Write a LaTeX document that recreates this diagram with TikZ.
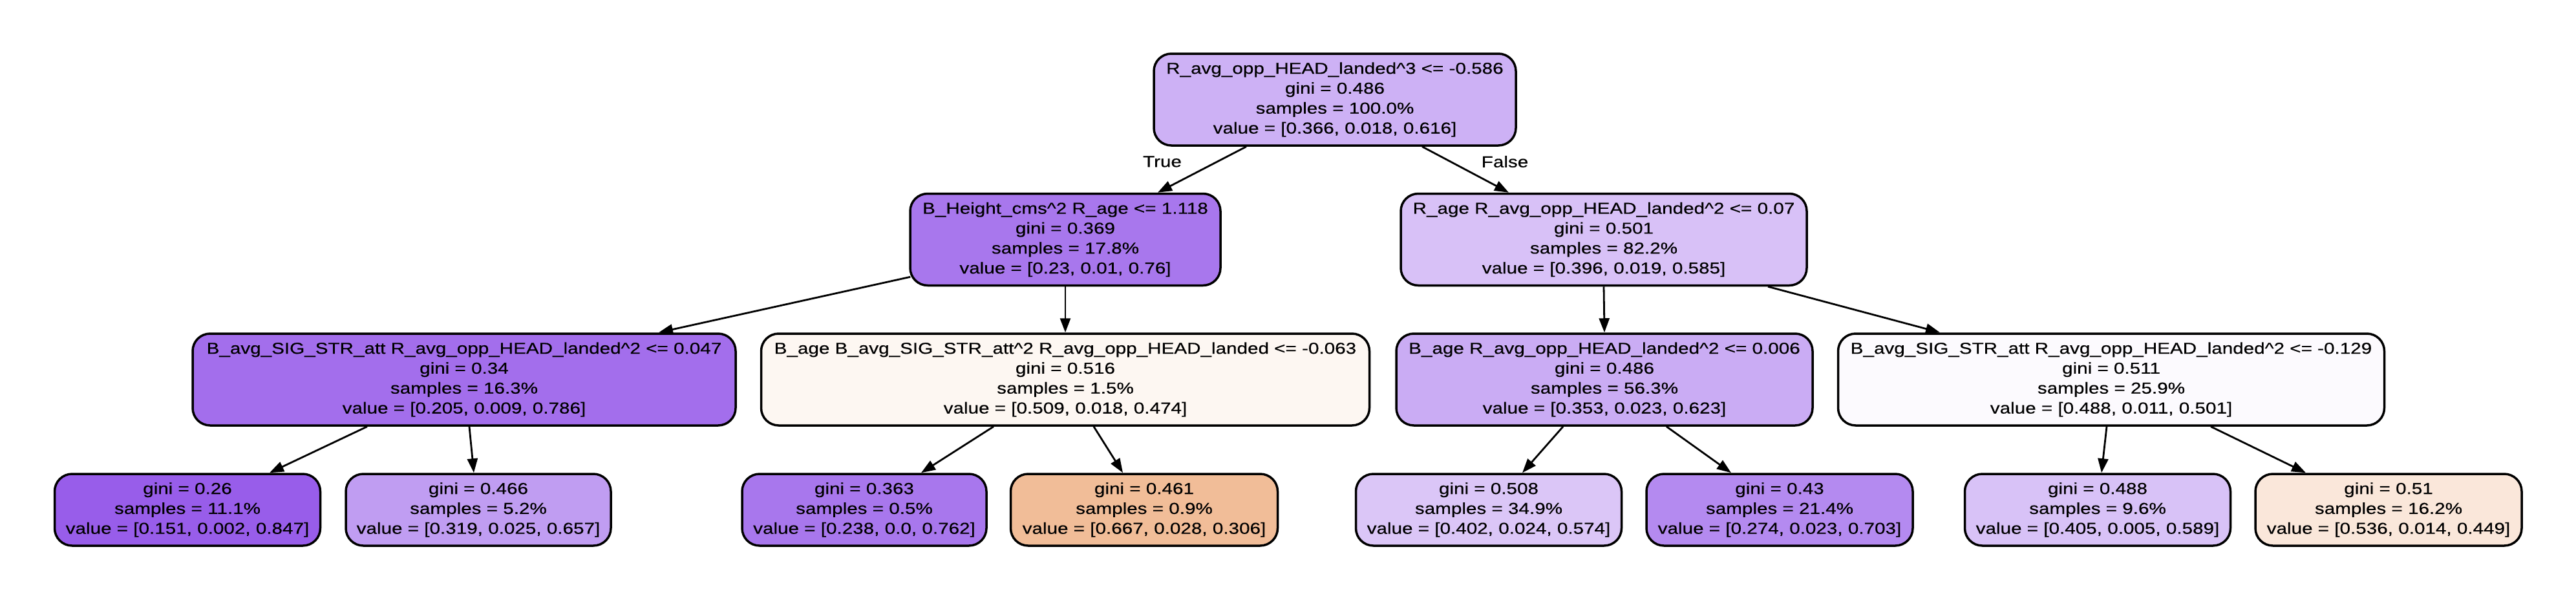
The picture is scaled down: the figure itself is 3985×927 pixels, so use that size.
\documentclass[tikz,border=0pt]{standalone}
\usepackage{fontspec}
\setmainfont{Liberation Sans}[FakeStretch=1.21,FakeBold=0.4]
\usetikzlibrary{arrows.meta,calc}
\definecolor{cRoot}{RGB}{205,177,245}
\definecolor{cLL}{RGB}{168,119,237}
\definecolor{cLR}{RGB}{216,193,247}
\definecolor{cA}{RGB}{163,110,236}
\definecolor{cB}{RGB}{253,247,242}
\definecolor{cC}{RGB}{202,172,244}
\definecolor{cD}{RGB}{252,250,254}
\definecolor{cF}{RGB}{152,93,234}
\definecolor{cG}{RGB}{192,157,242}
\definecolor{cH}{RGB}{168,119,237}
\definecolor{cI}{RGB}{241,189,152}
\definecolor{cJ}{RGB}{219,198,247}
\definecolor{cK}{RGB}{180,138,240}
\definecolor{cM}{RGB}{216,194,247}
\definecolor{cN}{RGB}{250,231,218}
\newcommand\pxu{0.5pt}
\tikzset{
  tnode/.style={draw=black, line width=1.75pt, rounded corners=13.5pt, align=center,
    inner sep=2pt, font=\fontsize{12.25pt}{15.4pt}\selectfont},
  inode/.style={tnode, minimum height=142*\pxu},
  leafnode/.style={tnode, minimum height=111*\pxu},
  edge/.style={line width=1.4pt, -{Triangle[length=11pt,width=8pt]}},
  elabel/.style={font=\fontsize{12.25pt}{15.4pt}\selectfont, inner sep=0pt}
}
\begin{document}
\begin{tikzpicture}[x=0.5pt, y=-0.5pt]
\fill[white] (0,0) rectangle (3985,927);
\useasboundingbox (0,0) rectangle (3985,927);

% level 0
\node[inode, fill=cRoot, minimum width=560*\pxu] (root) at (2065,154)
  {R\_avg\_opp\_HEAD\_landed\textasciicircum 3 <= -0.586\\ gini = 0.486\\ samples = 100.0\%\\ value = [0.366, 0.018, 0.616]};

% level 1
\node[inode, fill=cLL, minimum width=480*\pxu] (L1L) at (1648,370.5)
  {B\_Height\_cms\textasciicircum 2 R\_age <= 1.118\\ gini = 0.369\\ samples = 17.8\%\\ value = [0.23, 0.01, 0.76]};
\node[inode, fill=cLR, minimum width=628*\pxu] (L1R) at (2481,370.5)
  {R\_age R\_avg\_opp\_HEAD\_landed\textasciicircum 2 <= 0.07\\ gini = 0.501\\ samples = 82.2\%\\ value = [0.396, 0.019, 0.585]};

% level 2
\node[inode, fill=cA, minimum width=840*\pxu] (A) at (718,587)
  {B\_avg\_SIG\_STR\_att R\_avg\_opp\_HEAD\_landed\textasciicircum 2 <= 0.047\\ gini = 0.34\\ samples = 16.3\%\\ value = [0.205, 0.009, 0.786]};
\node[inode, fill=cB, minimum width=941*\pxu] (B) at (1648,587)
  {B\_age B\_avg\_SIG\_STR\_att\textasciicircum 2 R\_avg\_opp\_HEAD\_landed <= -0.063\\ gini = 0.516\\ samples = 1.5\%\\ value = [0.509, 0.018, 0.474]};
\node[inode, fill=cC, minimum width=644*\pxu] (C) at (2482,587)
  {B\_age R\_avg\_opp\_HEAD\_landed\textasciicircum 2 <= 0.006\\ gini = 0.486\\ samples = 56.3\%\\ value = [0.353, 0.023, 0.623]};
\node[inode, fill=cD, minimum width=845*\pxu] (D) at (3266,587)
  {B\_avg\_SIG\_STR\_att R\_avg\_opp\_HEAD\_landed\textasciicircum 2 <= -0.129\\ gini = 0.511\\ samples = 25.9\%\\ value = [0.488, 0.011, 0.501]};

% leaves
\node[leafnode, fill=cF, minimum width=411*\pxu] (F1) at (290,788.5)
  {gini = 0.26\\ samples = 11.1\%\\ value = [0.151, 0.002, 0.847]};
\node[leafnode, fill=cG, minimum width=410*\pxu] (F2) at (740,788.5)
  {gini = 0.466\\ samples = 5.2\%\\ value = [0.319, 0.025, 0.657]};
\node[leafnode, fill=cH, minimum width=378*\pxu] (F3) at (1337,788.5)
  {gini = 0.363\\ samples = 0.5\%\\ value = [0.238, 0.0, 0.762]};
\node[leafnode, fill=cI, minimum width=413*\pxu] (F4) at (1770,788.5)
  {gini = 0.461\\ samples = 0.9\%\\ value = [0.667, 0.028, 0.306]};
\node[leafnode, fill=cJ, minimum width=411*\pxu] (F5) at (2303,788.5)
  {gini = 0.508\\ samples = 34.9\%\\ value = [0.402, 0.024, 0.574]};
\node[leafnode, fill=cK, minimum width=412*\pxu] (F6) at (2753,788.5)
  {gini = 0.43\\ samples = 21.4\%\\ value = [0.274, 0.023, 0.703]};
\node[leafnode, fill=cM, minimum width=411*\pxu] (F7) at (3245,788.5)
  {gini = 0.488\\ samples = 9.6\%\\ value = [0.405, 0.005, 0.589]};
\node[leafnode, fill=cN, minimum width=412*\pxu] (F8) at (3695,788.5)
  {gini = 0.51\\ samples = 16.2\%\\ value = [0.536, 0.014, 0.449]};

% edges
\draw[edge] ([xshift=-137*\pxu]root.south) -- ([xshift=143*\pxu]L1L.north);
\draw[edge] ([xshift=135*\pxu]root.south) -- ([xshift=-147*\pxu]L1R.north);
\draw[edge] ([xshift=2*\pxu,yshift=15*\pxu]L1L.south west) -- ([xshift=301*\pxu]A.north);
\draw[edge] (L1L.south) -- (B.north);
\draw[edge] (L1R.south) -- (C.north);
\draw[edge] ([xshift=254*\pxu]L1R.south) -- ([xshift=-265*\pxu]D.north);
\draw[edge] ([xshift=-150*\pxu]A.south) -- ([xshift=127*\pxu]F1.north);
\draw[edge] ([xshift=8*\pxu]A.south) -- ([xshift=-7*\pxu]F2.north);
\draw[edge] ([xshift=-111*\pxu]B.south) -- ([xshift=88*\pxu]F3.north);
\draw[edge] ([xshift=44*\pxu]B.south) -- ([xshift=-33*\pxu]F4.north);
\draw[edge] ([xshift=-64*\pxu]C.south) -- ([xshift=52*\pxu]F5.north);
\draw[edge] ([xshift=96*\pxu]C.south) -- ([xshift=-75*\pxu]F6.north);
\draw[edge] ([xshift=-7*\pxu]D.south) -- ([xshift=6*\pxu]F7.north);
\draw[edge] ([xshift=154*\pxu]D.south) -- ([xshift=-128*\pxu]F8.north);

% edge labels
\node[elabel] (lblTrue) at (1798,250) {True};
\node[elabel] (lblFalse) at (2328,250) {False};
\end{tikzpicture}
\end{document}
